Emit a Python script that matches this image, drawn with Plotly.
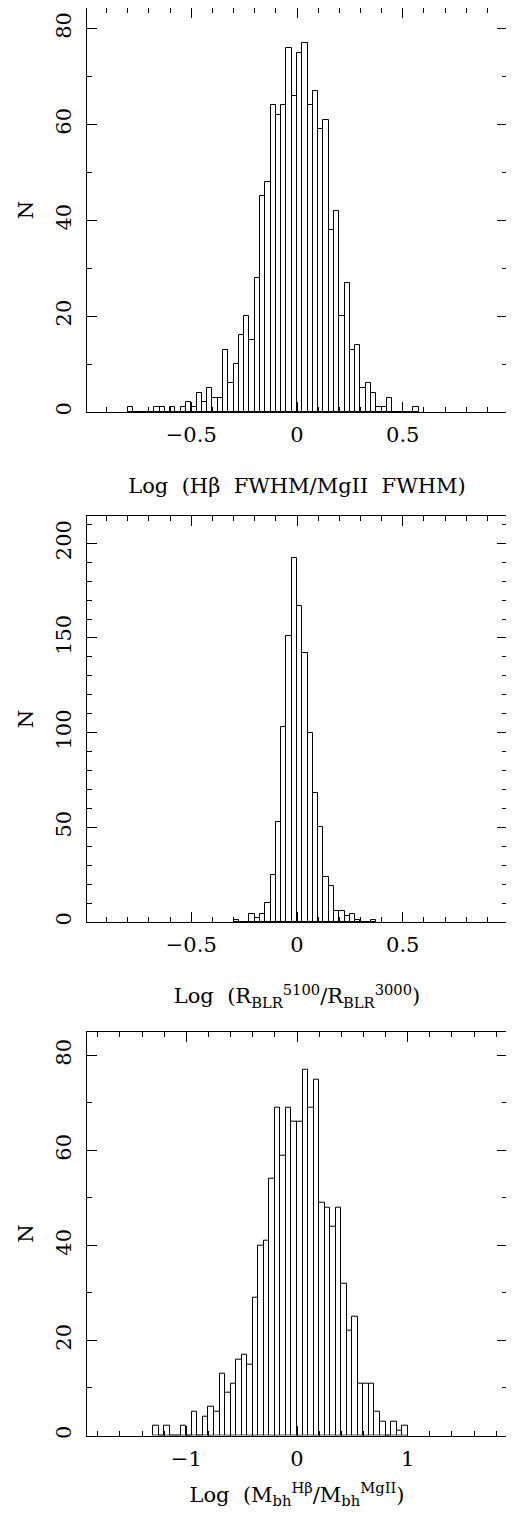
import plotly.graph_objects as go
from plotly.subplots import make_subplots

# panel 1: Log (Hbeta FWHM / MgII FWHM), bins of 0.025 starting at -0.8
fwhm_start = -0.8
fwhm_width = 0.025
fwhm_counts = [1, 0, 0, 0, 0, 1, 1, 0, 1, 0,
               1, 2, 1, 4, 2, 5, 3, 3, 13, 6,
               10, 16, 20, 15, 28, 45, 48, 64, 62, 64,
               76, 66, 75, 77, 64, 67, 59, 61, 38, 42,
               20, 27, 13, 14, 5, 6, 4, 1, 1, 3,
               0, 0, 0, 0, 1]

# panel 2: Log (R_BLR 5100 / R_BLR 3000), bins of 0.025 starting at -0.3
rblr_start = -0.3
rblr_width = 0.025
rblr_counts = [1, 0, 0, 4, 2, 4, 10, 25, 53, 103,
               151, 192, 167, 142, 100, 68, 50, 24, 19, 6,
               6, 3, 4, 1, 0, 0, 1]

# panel 3: Log (Mbh Hbeta / Mbh MgII), bins of 0.05 starting at -1.3
mbh_start = -1.3
mbh_width = 0.05
mbh_counts = [2, 0, 2, 0, 0, 2, 0, 5, 0, 4,
              6, 5, 13, 9, 11, 16, 17, 15, 29, 40,
              41, 54, 69, 59, 69, 66, 66, 77, 69, 75,
              49, 48, 44, 48, 32, 22, 25, 11, 11, 11,
              5, 3, 0, 3, 1, 2]

x_titles = [
    "Log  (H\u03b2  FWHM/MgII  FWHM)",
    "Log  (R<sub>BLR</sub><sup>5100</sup>/R<sub>BLR</sub><sup>3000</sup>)",
    "Log  (M<sub>bh</sub><sup>H\u03b2</sup>/M<sub>bh</sub><sup>MgII</sup>)",
]

FONT = "DejaVu Serif"

fig = make_subplots(rows=3, cols=1)

panels = [
    (fwhm_start, fwhm_width, fwhm_counts),
    (rblr_start, rblr_width, rblr_counts),
    (mbh_start, mbh_width, mbh_counts),
]
for i, (start, width, counts) in enumerate(panels):
    edges = [start + k * width for k in range(len(counts))]
    fig.add_trace(go.Bar(
        x=edges,
        y=counts,
        width=width,
        offset=0,
        marker=dict(color="white", line=dict(color="black", width=1)),
        showlegend=False,
    ), row=i + 1, col=1)

W, H = 514, 1520
# the page body adds an 8px margin, so figure pixels sit 8px right/down
x_dom = [79 / W, 499 / W]
frames = [(0, 404), (508, 914), (1023.7, 1427.5)]
x_ranges = [[-0.993, 0.993], [-0.993, 0.993], [-1.897, 1.897]]
y_ranges = [[0, 84.3], [0, 214.4], [0, 85]]
x_major = [0.5, 0.5, 1]
x_minor = [0.1, 0.1, 0.2]
y_major = [20, 50, 20]
y_minor = [10, 10, 10]
title_standoff = [32, 32, 17]

for i in range(3):
    top, bottom = frames[i]
    fig.update_xaxes(
        showline=True, linecolor="black", linewidth=1, mirror="ticks",
        ticks="inside", tickcolor="black", tickwidth=1, ticklen=10,
        showgrid=False, zeroline=False, automargin=False,
        tickfont=dict(family=FONT, size=21, color="black"),
        domain=x_dom, range=x_ranges[i],
        tickmode="linear", tick0=0, dtick=x_major[i],
        minor=dict(dtick=x_minor[i], tick0=0, ticks="inside", ticklen=5,
                   tickcolor="black", tickwidth=1),
        ticklabelstandoff=4,
        title=dict(text=x_titles[i], font=dict(family=FONT, size=21, color="black"),
                   standoff=title_standoff[i]),
        row=i + 1, col=1,
    )
    fig.update_yaxes(
        showline=True, linecolor="black", linewidth=1, mirror="ticks",
        ticks="inside", tickcolor="black", tickwidth=1, ticklen=10,
        showgrid=False, zeroline=False, automargin=False,
        tickfont=dict(family=FONT, size=21, color="black"),
        domain=[(H - bottom) / H, (H - top) / H], range=y_ranges[i],
        tickmode="linear", tick0=0, dtick=y_major[i],
        minor=dict(dtick=y_minor[i], tick0=0, ticks="inside", ticklen=5,
                   tickcolor="black", tickwidth=1),
        tickangle=-90, ticklabelstandoff=7,
        title=dict(text="N", font=dict(family=FONT, size=21, color="black"),
                   standoff=12),
        row=i + 1, col=1,
    )

fig.update_layout(
    width=W, height=H,
    margin=dict(l=0, r=0, t=0, b=0),
    paper_bgcolor="white", plot_bgcolor="white",
    bargap=0,
)

fig.write_html("out.html")
